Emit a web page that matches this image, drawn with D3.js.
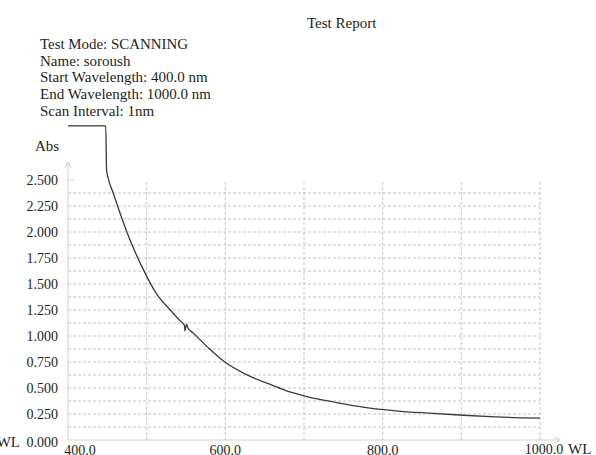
<!DOCTYPE html>
<html lang="en">
<head>
  <title>Test Report</title>
  <meta charset="UTF-8">
  <style media="screen">
    * { box-sizing: border-box; }
    body { margin: 0; background: #fff; }
    svg { display: block; }
    text { font-family: "Liberation Serif", "Times New Roman", serif; font-size: 14px; fill: #1e1e1e; }
    .big { font-size: 15px; }
    .grid line { stroke: #c4c4c4; stroke-width: 1; stroke-dasharray: 3,2; }
    .axis { stroke: #d2d2d2; stroke-width: 1; fill: none; }
    .curve { fill: none; stroke: #3a3a3a; stroke-width: 1.3; }
  </style>
</head>
<body>
<svg id="chart" width="596" height="455"></svg>
<script src="https://d3js.org/d3.v7.min.js"></script>
<script>
  // header text of the printout
  var infoLines = [
    'Test Mode: SCANNING',
    'Name: soroush',
    'Start Wavelength: 400.0 nm',
    'End Wavelength: 1000.0 nm',
    'Scan Interval: 1nm'
  ];

  // wavelength (nm) / absorbance
  var wavelengths = [400, 448, 449, 451, 457, 469, 479, 495, 513, 530, 542, 548, 548.7, 550.6, 552.5, 559,
                     580, 596, 635, 657, 678, 700, 720, 740, 775, 817, 859, 902, 944, 1000];
  var absorbance  = [3.02, 3.02, 2.60, 2.52, 2.385, 2.12, 1.92, 1.65, 1.40, 1.25, 1.15, 1.10, 1.048, 1.115, 1.077, 1.03,
                     0.875, 0.77, 0.60, 0.535, 0.472, 0.425, 0.39, 0.362, 0.317, 0.281, 0.258, 0.238, 0.222, 0.21];

  var yTicks = [0, 0.25, 0.5, 0.75, 1.0, 1.25, 1.5, 1.75, 2.0, 2.25, 2.5];
  var xTicks = [400, 600, 800, 1000];
  var xGrid = [500, 600, 700, 800, 900, 1000];
  var yGrid = d3.range(1, 20).map(function(i){ return i * 0.125; });

  var svg = d3.select('#chart');

  var x = d3.scaleLinear().domain([400, 1000]).range([68, 540]);
  var y = d3.scaleLinear().domain([0, 2.5]).range([440, 180]);

  // title and info block
  svg.append('text').attr('class', 'big').attr('x', 307).attr('y', 28).text('Test Report');
  svg.selectAll('.info')
    .data(infoLines)
    .enter().append('text')
      .attr('class', 'info big')
      .attr('x', 40)
      .attr('y', function(d, i){ return 49 + i * 16.7; })
      .text(function(d){ return d; });
  // the printer's capitals are narrower than Liberation's
  svg.select('.info').attr('textLength', 148).attr('lengthAdjust', 'spacingAndGlyphs');

  // dotted grid
  var grid = svg.append('g').attr('class', 'grid');
  grid.selectAll('.h')
    .data(yGrid)
    .enter().append('line')
      .attr('x1', x(400)).attr('x2', x(1000))
      .attr('y1', function(d){ return y(d); })
      .attr('y2', function(d){ return y(d); });
  grid.selectAll('.v')
    .data(xGrid)
    .enter().append('line')
      .attr('x1', function(d){ return x(d); })
      .attr('x2', function(d){ return x(d); })
      .attr('y1', y(0)).attr('y2', y(2.5));

  // axes with arrows
  svg.append('path').attr('class', 'axis')
    .attr('d', 'M' + x(400) + ',' + y(0) + 'V' + (y(2.5) - 18) +
               'M' + (x(400) - 3) + ',' + (y(2.5) - 12) + 'L' + x(400) + ',' + (y(2.5) - 18) + 'L' + (x(400) + 3) + ',' + (y(2.5) - 12));
  svg.append('path').attr('class', 'axis')
    .attr('d', 'M' + x(400) + ',' + y(0) + 'H' + (x(1000) + 20) +
               'M' + (x(1000) + 14) + ',' + (y(0) - 3) + 'L' + (x(1000) + 20) + ',' + y(0) + 'L' + (x(1000) + 14) + ',' + (y(0) + 3));
  svg.append('line').attr('class', 'axis')
    .attr('x1', x(400)).attr('x2', x(400) + 6)
    .attr('y1', y(2.5)).attr('y2', y(2.5));

  // y labels
  svg.selectAll('.ylab')
    .data(yTicks)
    .enter().append('text')
      .attr('class', 'ylab')
      .attr('text-anchor', 'end')
      .attr('x', 58)
      .attr('y', function(d){ return y(d) + (d === 0 ? 7 : 5); })
      .text(function(d){ return d3.format('.3f')(d); });
  svg.append('text').attr('class', 'big').attr('x', 35).attr('y', 151).text('Abs');
  svg.append('text').attr('class', 'big').attr('text-anchor', 'end').attr('x', 20).attr('y', 447).text('WL');

  // x labels
  svg.selectAll('.xlab')
    .data(xTicks)
    .enter().append('text')
      .attr('class', 'xlab')
      .attr('text-anchor', 'middle')
      .attr('x', function(d, i){ return x(d) + (i === 0 ? 12 : (d === 1000 ? 4 : 0)); })
      .attr('y', function(d){ return d === 1000 ? 454 : 455; })
      .text(function(d){ return d3.format('.1f')(d); });
  svg.append('text').attr('class', 'big').attr('x', 568).attr('y', 454).text('WL');

  // scan curve
  var pts = wavelengths.map(function(w, i){ return [w, absorbance[i]]; });
  var line = d3.line()
    .x(function(d){ return x(d[0]); })
    .y(function(d){ return y(d[1]); })
    .curve(d3.curveMonotoneX);
  svg.append('path').datum(pts).attr('class', 'curve').attr('d', line);
</script>
</body>
</html>
